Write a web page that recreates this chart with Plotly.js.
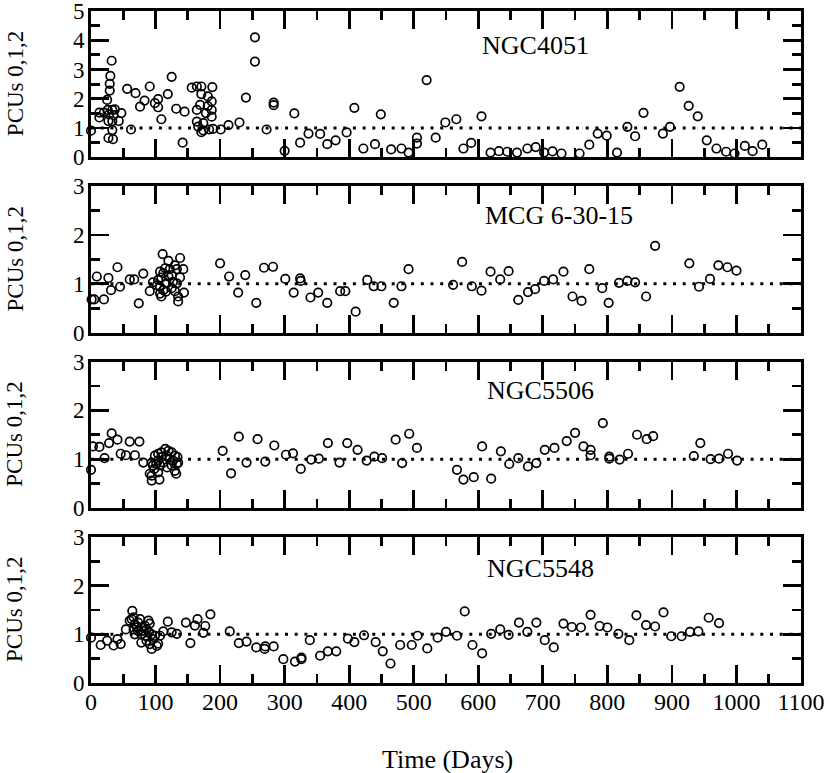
<!DOCTYPE html>
<html>
<head>
<meta charset="utf-8">
<script src="https://cdn.plot.ly/plotly-3.0.1.min.js"></script>
<style>html,body{margin:0;padding:0;background:#fff;}#chart{width:830px;height:773px;}</style>
</head>
<body>
<div id="chart"></div>
<script>
// ---------------- data ----------------
const sourceNames = ["NGC4051", "MCG 6-30-15", "NGC5506", "NGC5548"];
const yAxisTitle = "PCUs 0,1,2";
const xAxisTitle = "Time (Days)";
const xTickValues = [0, 100, 200, 300, 400, 500, 600, 700, 800, 900, 1000, 1100];
const referenceLevel = 1;

const ngc4051Days = [0,13,13,20,25,32,30,29,29,26,28,33,37,35,27,33,43,47,27,34,33,62,56,69,76,83,91,99,104,104,109,119,125,132,145,142,156,164,171,171,188,164,169,164,166,174,174,178,181,187,187,187,183,189,201,181,171,213,230,240,254,254,272,283,283,300,315,324,337,355,366,379,396,408,422,440,449,465,481,492,505,505,520,534,549,566,577,589,605,619,632,645,660,676,689,702,715,729,757,772,785,799,815,831,843,856,886,897,912,926,940,954,969,984,997,1013,1025,1040];
const ngc4051Rates = [0.91,1.53,1.36,1.53,1.96,3.3,2.78,2.51,2.28,1.62,1.47,1.62,1.64,1.44,1.24,1.24,1.24,1.51,0.66,0.62,0.93,0.95,2.34,2.19,1.73,1.94,2.42,1.85,1.99,1.71,1.30,2.16,2.75,1.66,1.56,0.50,2.38,2.42,2.42,2.16,2.40,1.62,1.79,1.22,1.05,0.92,1.17,1.51,2.08,1.91,1.62,1.39,0.95,0.97,0.95,1.75,0.86,1.10,1.19,2.04,4.10,3.27,0.95,1.87,1.78,0.22,1.50,0.50,0.81,0.80,0.45,0.58,0.85,1.69,0.30,0.45,1.47,0.27,0.30,0.16,0.47,0.67,2.64,0.67,1.19,1.30,0.30,0.49,1.40,0.16,0.21,0.19,0.16,0.30,0.35,0.16,0.20,0.13,0.13,0.43,0.81,0.74,0.16,1.04,0.72,1.52,0.81,1.04,2.41,1.76,1.40,0.58,0.30,0.19,0.13,0.39,0.21,0.43];

const mcgDays = [1,5,9,20,27,31,41,45,60,67,74,81,91,96,111,120,138,115,107,122,133,143,125,138,109,104,117,133,107,125,112,130,144,109,135,135,116,102,120,127,112,130,107,200,214,228,239,256,268,282,301,314,324,325,340,352,366,386,394,410,428,438,450,469,481,492,561,575,590,605,619,634,647,662,677,688,702,716,732,746,760,772,792,802,818,831,843,860,874,927,942,959,972,986,1000];
const mcgRates = [0.68,0.68,1.15,0.68,1.12,0.87,1.34,0.94,1.09,1.09,0.60,1.21,0.85,1.03,1.61,1.47,1.53,1.32,1.25,1.30,1.30,1.30,1.18,1.13,1.13,1.08,1.01,1.01,0.94,0.91,0.87,0.85,0.82,0.74,0.74,0.64,0.84,0.97,1.15,1.04,1.22,1.38,0.80,1.42,1.15,0.82,1.18,0.61,1.33,1.35,1.10,0.82,1.11,1.06,0.72,0.82,0.61,0.85,0.85,0.43,1.08,0.95,0.95,0.61,0.95,1.30,0.98,1.45,0.95,0.86,1.25,1.09,1.26,0.67,0.83,0.89,1.06,1.09,1.25,0.74,0.65,1.30,0.91,0.61,1.02,1.06,1.03,0.74,1.78,1.42,0.94,1.10,1.38,1.34,1.27];

const ngc5506Days = [0,3,13,21,28,32,41,46,54,60,68,75,81,94,94,91,106,98,104,101,94,99,104,109,115,120,125,130,134,133,130,132,125,118,112,109,107,122,117,96,104,127,135,204,217,229,241,258,270,284,302,313,325,341,353,367,385,397,413,427,439,451,472,482,493,505,567,577,593,606,620,635,648,662,677,690,703,718,737,750,763,774,774,793,803,803,819,832,846,861,871,934,944,960,973,987,1001];
const ngc5506Rates = [0.78,1.26,1.25,1.02,1.33,1.53,1.40,1.11,1.08,1.36,1.08,1.36,0.93,0.56,0.66,0.70,0.58,0.80,0.73,0.90,0.93,1.07,1.11,1.14,1.21,1.17,1.14,1.07,1.04,0.90,0.76,0.70,0.87,0.83,0.93,1.04,0.87,1.00,1.07,0.87,0.97,0.97,0.93,1.17,0.71,1.46,0.93,1.41,0.95,1.28,1.09,1.12,0.80,0.99,1.01,1.33,0.93,1.33,1.19,0.97,1.05,1.02,1.40,0.92,1.52,1.23,0.78,0.58,0.63,1.26,0.60,1.16,0.90,1.02,0.85,0.92,1.19,1.23,1.37,1.54,1.26,1.19,1.08,1.74,1.01,1.05,0.99,1.11,1.50,1.41,1.47,1.06,1.33,1.00,1.01,1.11,0.97];

const ngc5548Days = [0,15,25,35,41,46,54,64,63,66,60,68,71,66,73,76,68,78,84,81,89,91,86,90,78,86,91,94,96,99,102,104,107,94,84,73,78,112,119,125,133,147,154,161,165,174,177,185,215,229,241,256,269,270,283,298,316,326,326,339,355,367,380,398,408,423,441,452,464,479,497,506,521,537,550,567,579,591,606,620,634,647,663,676,690,703,717,732,745,759,774,788,800,817,834,845,860,874,887,899,915,928,941,957,973];
const ngc5548Rates = [0.93,0.78,0.87,0.77,0.90,0.80,1.10,1.48,1.31,1.35,1.28,1.21,1.14,1.10,1.07,1.31,1.00,1.00,1.17,1.07,1.28,1.22,1.10,1.04,0.83,0.87,0.80,0.70,0.90,0.97,0.76,0.81,0.97,1.00,0.97,1.24,1.14,1.06,1.26,1.04,1.01,1.24,0.82,1.18,1.31,1.03,1.17,1.41,1.06,0.82,0.85,0.73,0.70,0.75,0.75,0.49,0.44,0.49,0.52,0.88,0.56,0.65,0.65,0.91,0.84,0.98,0.84,0.65,0.40,0.78,0.78,0.97,0.71,0.93,1.05,0.97,1.47,0.78,0.61,1.01,1.10,0.99,1.24,1.05,1.24,0.88,0.73,1.22,1.15,1.14,1.40,1.17,1.14,1.01,0.88,1.39,1.19,1.16,1.45,0.96,0.96,1.05,1.06,1.34,1.23];

const panelDays = [ngc4051Days, mcgDays, ngc5506Days, ngc5548Days];
const panelRates = [ngc4051Rates, mcgRates, ngc5506Rates, ngc5548Rates];
const panelYMax = [5, 3, 3, 3];

// ---------------- styling / layout ----------------
const FONT = 'Liberation Serif, Times New Roman, Times, serif';
const W = 830, H = 773;
const M = {l: 91, r: 29, t: 11, b: 90};
const plotW = W - M.l - M.r, plotH = H - M.t - M.b;
const panelH = 146.3 / plotH, gapH = 29 / plotH;

const traces = [];
const layout = {
  width: W, height: H,
  margin: M,
  paper_bgcolor: '#fff', plot_bgcolor: '#fff',
  showlegend: false,
  font: {family: FONT, size: 23, color: '#000'},
  shapes: [], annotations: []
};

const labelPos = [
  {x: 480, y: 45}, {x: 483, y: 215}, {x: 485, y: 390}, {x: 485, y: 568}
];

for (let i = 0; i < 4; i++) {
  const n = i + 1;
  const xa = n === 1 ? 'x' : 'x' + n;
  const ya = n === 1 ? 'y' : 'y' + n;
  const top = 1 - i * (panelH + gapH);
  const domain = [Math.max(0, top - panelH), top];
  traces.push({
    type: 'scatter', mode: 'markers',
    x: panelDays[i], y: panelRates[i],
    xaxis: xa, yaxis: ya,
    marker: {symbol: 'circle-open', size: 8.5, color: '#000', line: {width: 1.7, color: '#000'}},
    hoverinfo: 'x+y', cliponaxis: false
  });
  const common = {
    showline: true, linecolor: '#000', linewidth: 3, mirror: 'ticks',
    ticks: 'inside', ticklen: 18, tickwidth: 2.8, tickcolor: '#000',
    showgrid: false, zeroline: false, fixedrange: true,
    ticklabeloverflow: 'allow'
  };
  layout['xaxis' + (n === 1 ? '' : n)] = Object.assign({}, common, {
    anchor: ya, domain: [0, 1], range: [0, 1100],
    tickvals: xTickValues, ticktext: xTickValues.map(String),
    showticklabels: i === 3,
    tickfont: {family: FONT, size: 24},
    ticklabelstandoff: -5,
    minor: {dtick: 50, tick0: 0, ticks: 'inside', ticklen: 9, tickwidth: 2.8, tickcolor: '#000', showgrid: false}
  });
  const yTicks = [];
  for (let v = 0; v <= panelYMax[i]; v++) yTicks.push(v);
  layout['yaxis' + (n === 1 ? '' : n)] = Object.assign({}, common, {
    anchor: xa, domain: domain, range: [0, panelYMax[i]],
    tickvals: yTicks, ticktext: yTicks.map(String),
    tickfont: {family: FONT, size: 23},
    ticklabelstandoff: -1,
    minor: {dtick: 0.5, tick0: 0, ticks: 'inside', ticklen: 9, tickwidth: 2.8, tickcolor: '#000', showgrid: false}
  });
  layout.shapes.push({
    type: 'line', xref: xa + ' domain', yref: ya,
    x0: 0, x1: 1, y0: referenceLevel, y1: referenceLevel,
    line: {color: '#000', width: 3, dash: '3px,6.7px'}, layer: 'below'
  });
  layout.annotations.push({
    xref: 'paper', yref: 'paper',
    x: (labelPos[i].x - M.l) / plotW, y: (H - M.b - labelPos[i].y) / plotH,
    xanchor: 'left', yanchor: 'middle', showarrow: false,
    text: sourceNames[i], font: {family: FONT, size: 26, color: '#000'}
  });
  layout.annotations.push({
    xref: 'paper', yref: 'paper',
    x: (15 - M.l) / plotW, y: (domain[0] + domain[1]) / 2,
    xanchor: 'center', yanchor: 'middle', textangle: -90, showarrow: false,
    text: yAxisTitle, font: {family: FONT, size: 23, color: '#000'}
  });
}
layout.annotations.push({
  xref: 'paper', yref: 'paper',
  x: (447 - M.l) / plotW, y: (H - M.b - 759) / plotH,
  xanchor: 'center', yanchor: 'middle', showarrow: false,
  text: xAxisTitle, font: {family: FONT, size: 26, color: '#000'}
});

Plotly.newPlot('chart', traces, layout, {displayModeBar: false, staticPlot: true});
</script>
</body>
</html>
